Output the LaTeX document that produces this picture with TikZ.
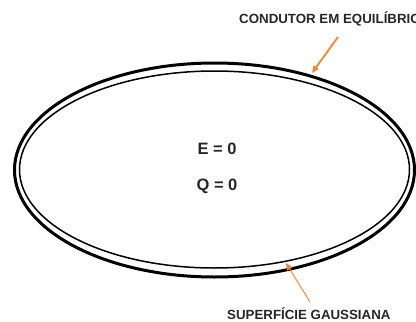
\documentclass[tikz,border=0pt]{standalone}
\usepackage{fontspec}
\setmainfont{Liberation Sans}
\usetikzlibrary{shapes.geometric,arrows.meta}
\definecolor{arrorange}{RGB}{240,132,55}
\definecolor{txtgray}{RGB}{38,38,38}
\begin{document}
\begin{tikzpicture}[x=1pt,y=-1pt,
  ring/.style={draw=black,ellipse,inner sep=0pt,fill=none},
  lbl/.style={font=\bfseries\fontsize{13.3}{15}\selectfont,text=txtgray,inner sep=0pt,anchor=base west},
  eq/.style={font=\bfseries\fontsize{16.5}{18}\selectfont,text=txtgray,inner sep=0pt,anchor=base},
  pointer/.style={draw=arrorange,-{Triangle[length=7pt,width=6pt]}}]
\useasboundingbox (0,0) rectangle (416,322);
\node[ring,line width=3pt,minimum width=400pt,minimum height=214pt] (outer) at (214.5,170) {};
\node[ring,line width=1.5pt,minimum width=390pt,minimum height=197pt] (inner) at (214.5,169.5) {};
\node[eq] (E) at (217,154.3) {E = 0};
\node[eq] (Q) at (217,190.5) {Q = 0};
\node[lbl] (cond) at (239,23) {CONDUTOR EM EQUILÍBRIO};
\node[lbl] (gauss) at (227,319) {SUPERFÍCIE GAUSSIANA};
\coordinate (c1) at (338,37);
\coordinate (t1) at (312,73);
\coordinate (c2) at (310,302);
\coordinate (t2) at (286,263);
\draw[pointer,line width=1.8pt] (c1) -- (t1);
\draw[pointer,line width=0.9pt] (c2) -- (t2);
\end{tikzpicture}
\end{document}
